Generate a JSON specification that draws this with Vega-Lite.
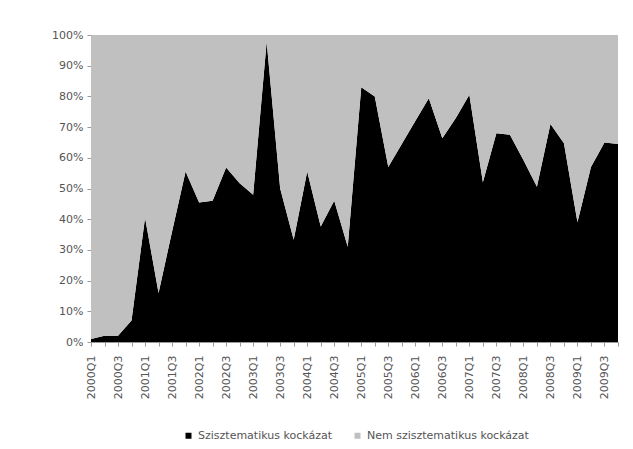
{
  "$schema": "https://vega.github.io/schema/vega-lite/v6.json",
  "width": 527,
  "height": 307,
  "autosize": {"type": "none"},
  "padding": {"left": 91, "top": 35, "right": 15, "bottom": 107},
  "background": "white",
  "config": {"view": {"stroke": null}, "font": "DejaVu Sans"},
  "data": {
    "values": [
      {"q": "2000Q1", "sys": 1, "non": 99},
      {"q": "2000Q2", "sys": 2, "non": 98},
      {"q": "2000Q3", "sys": 2, "non": 98},
      {"q": "2000Q4", "sys": 7, "non": 93},
      {"q": "2001Q1", "sys": 40.5, "non": 59.5},
      {"q": "2001Q2", "sys": 16, "non": 84},
      {"q": "2001Q3", "sys": 36, "non": 64},
      {"q": "2001Q4", "sys": 55.5, "non": 44.5},
      {"q": "2002Q1", "sys": 45.4, "non": 54.6},
      {"q": "2002Q2", "sys": 46, "non": 54},
      {"q": "2002Q3", "sys": 56.8, "non": 43.2},
      {"q": "2002Q4", "sys": 51.7, "non": 48.3},
      {"q": "2003Q1", "sys": 48, "non": 52},
      {"q": "2003Q2", "sys": 97.8, "non": 2.2},
      {"q": "2003Q3", "sys": 50, "non": 50},
      {"q": "2003Q4", "sys": 33.3, "non": 66.7},
      {"q": "2004Q1", "sys": 55.5, "non": 44.5},
      {"q": "2004Q2", "sys": 37.6, "non": 62.4},
      {"q": "2004Q3", "sys": 46, "non": 54},
      {"q": "2004Q4", "sys": 31, "non": 69},
      {"q": "2005Q1", "sys": 83, "non": 17},
      {"q": "2005Q2", "sys": 80, "non": 20},
      {"q": "2005Q3", "sys": 57, "non": 43},
      {"q": "2005Q4", "sys": 64.5, "non": 35.5},
      {"q": "2006Q1", "sys": 72, "non": 28},
      {"q": "2006Q2", "sys": 79.4, "non": 20.6},
      {"q": "2006Q3", "sys": 66.4, "non": 33.6},
      {"q": "2006Q4", "sys": 73, "non": 27},
      {"q": "2007Q1", "sys": 80.5, "non": 19.5},
      {"q": "2007Q2", "sys": 52, "non": 48},
      {"q": "2007Q3", "sys": 68, "non": 32},
      {"q": "2007Q4", "sys": 67.5, "non": 32.5},
      {"q": "2008Q1", "sys": 59.3, "non": 40.7},
      {"q": "2008Q2", "sys": 50.6, "non": 49.4},
      {"q": "2008Q3", "sys": 71, "non": 29},
      {"q": "2008Q4", "sys": 64.7, "non": 35.3},
      {"q": "2009Q1", "sys": 39, "non": 61},
      {"q": "2009Q2", "sys": 57, "non": 43},
      {"q": "2009Q3", "sys": 65, "non": 35},
      {"q": "2009Q4", "sys": 64.5, "non": 35.5}
    ]
  },
  "transform": [
    {"fold": ["sys", "non"], "as": ["key", "v"]},
    {"lookup": "key", "from": {"data": {"values": [
      {"key": "sys", "s": "Szisztematikus kockázat"},
      {"key": "non", "s": "Nem szisztematikus kockázat"}
    ]}, "key": "key", "fields": ["s"]}}
  ],
  "mark": {"type": "area", "interpolate": "linear"},
  "encoding": {
    "x": {
      "field": "q",
      "type": "ordinal",
      "scale": {"type": "point", "padding": 0},
      "axis": {
        "title": null,
        "labelAngle": -90,
        "labelAlign": "right",
        "labelBaseline": "middle",
        "labelExpr": "(indexof(datum.label, 'Q1') >= 0 || indexof(datum.label, 'Q3') >= 0) ? datum.label : ''",
        "labelFontSize": 11,
        "labelColor": "#555555",
        "labelPadding": 9,
        "tickSize": 4,
        "tickColor": "#999999",
        "domainColor": "#999999",
        "grid": false
      }
    },
    "y": {
      "field": "v",
      "type": "quantitative",
      "stack": "normalize",
      "scale": {"domain": [0, 1], "nice": false},
      "axis": {
        "title": null,
        "format": ".0%",
        "values": [0, 0.1, 0.2, 0.3, 0.4, 0.5, 0.6, 0.7, 0.8, 0.9, 1],
        "labelFontSize": 11,
        "labelColor": "#555555",
        "labelPadding": 4,
        "tickSize": 4,
        "tickColor": "#999999",
        "domainColor": "#999999",
        "grid": false
      }
    },
    "color": {
      "field": "s",
      "type": "nominal",
      "scale": {
        "domain": ["Szisztematikus kockázat", "Nem szisztematikus kockázat"],
        "range": ["#000000", "#c0c0c0"]
      },
      "legend": {
        "title": null,
        "orient": "none",
        "legendX": 92,
        "legendY": 395,
        "direction": "horizontal",
        "symbolType": "square",
        "symbolSize": 36,
        "symbolStrokeWidth": 0,
        "labelFontSize": 11,
        "labelLimit": 400,
        "labelColor": "#555555",
        "columnPadding": 20,
        "labelOffset": 4
      }
    },
    "order": {"field": "s", "sort": "descending"}
  }
}
